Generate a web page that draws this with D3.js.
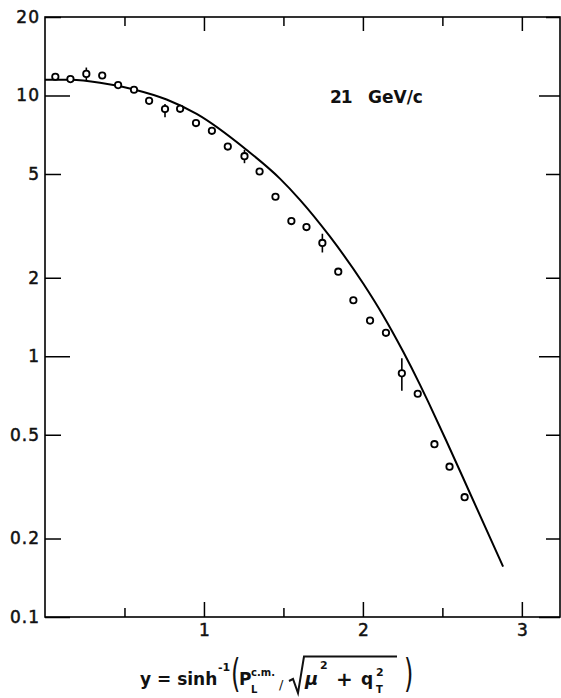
<!DOCTYPE html>
<html lang="en">
<head>
<meta charset="utf-8">
<title>D3: rapidity distribution, 21 GeV/c</title>
<script src="https://d3js.org/d3.v7.min.js"></script>
<style type="text/css">
	body { margin: 0; background: #fff; }
	svg { display: block; }
</style>
</head>
<body>
<script type="text/javascript">
// data points (open circles)
var ptX = [0.065, 0.16, 0.26, 0.36, 0.46, 0.56, 0.655, 0.755, 0.85, 0.95,
           1.05, 1.15, 1.255, 1.35, 1.45, 1.55, 1.645, 1.745, 1.845, 1.94,
           2.045, 2.145, 2.245, 2.345, 2.45, 2.545, 2.64];
var ptY = [11.8, 11.56, 12.1, 11.93, 10.96, 10.52, 9.54, 8.87, 8.89, 7.84,
           7.32, 6.37, 5.85, 5.11, 4.09, 3.30, 3.13, 2.72, 2.11, 1.64,
           1.37, 1.23, 0.86, 0.718, 0.46, 0.377, 0.288];

// error bars on a few points
var errX  = [0.26, 0.755, 1.255, 1.745, 2.245];
var errLo = [11.4, 8.26, 5.50, 2.50, 0.737];
var errHi = [12.8, 9.27, 6.19, 2.95, 0.982];

// theory curve
var curveX = [0, 0.164, 0.346, 0.56, 0.765, 0.954, 1.269, 1.478, 1.604, 1.792,
              2.002, 2.128, 2.253, 2.358, 2.411, 2.526, 2.673, 2.882];
var curveY = [11.5, 11.48, 11.19, 10.55, 9.65, 8.50, 6.18, 4.80, 3.98, 2.88,
              1.90, 1.43, 1.042, 0.78, 0.668, 0.472, 0.299, 0.156];

// ticks
var yTicks = [0.1, 0.2, 0.5, 1, 2, 5, 10, 20];
var yTickLabels = ["0.1", "0.2", "0.5", "1", "2", "5", "10", "20"];
var yMajor = [0.1, 1, 10];
var xTicks = [0.5, 1, 1.5, 2, 2.5, 3];
var xTickLabels = ["", "1", "", "2", "", "3"];

var margin = {top: 17, right: 1, bottom: 81, left: 45},
	width = 561 - margin.left - margin.right,
	height = 698 - margin.top - margin.bottom;

var xscale = d3.scaleLinear().domain([0, 3.24]).range([0, width]);
var yscale = d3.scaleLog().domain([0.1, 20]).range([height, 0]);

var svg = d3.select("body").append("svg")
	.attr("width", 561)
	.attr("height", 698);

var g = svg.append("g")
	.attr("transform", "translate(" + margin.left + "," + margin.top + ")");

var tickFont = "'DejaVu Sans', sans-serif";

// left axis with labels, ticks pointing in
var leftAx = g.append("g")
	.call(d3.axisLeft(yscale)
		.tickValues(yTicks)
		.tickFormat(function(d, i){ return yTickLabels[i]; })
		.tickSizeInner(-16).tickSizeOuter(0).tickPadding(5));
leftAx.selectAll(".tick line")
	.attr("x2", function(d){ return yMajor.indexOf(d) >= 0 ? 25 : 16; })
	.attr("stroke-width", 1.5);
leftAx.selectAll("text")
	.attr("font-family", tickFont).attr("font-size", 17)
	.attr("letter-spacing", 1).attr("fill", "#111")
	.attr("stroke", "#111").attr("stroke-width", 0.5);

// right axis
var rightAx = g.append("g")
	.attr("transform", "translate(" + width + ",0)")
	.call(d3.axisRight(yscale)
		.tickValues(yTicks)
		.tickFormat("")
		.tickSizeInner(-14).tickSizeOuter(0));
rightAx.selectAll(".tick line")
	.attr("x2", function(d){ return yMajor.indexOf(d) >= 0 ? -21 : -14; })
	.attr("stroke-width", 1.5);

// bottom axis
var bottomAx = g.append("g")
	.attr("transform", "translate(0," + height + ")")
	.call(d3.axisBottom(xscale)
		.tickValues(xTicks)
		.tickFormat(function(d, i){ return xTickLabels[i]; })
		.tickSizeInner(-9).tickSizeOuter(0).tickPadding(7));
bottomAx.selectAll(".tick line")
	.attr("y2", function(d){ return d % 1 === 0 ? -15 : -9; })
	.attr("stroke-width", 1.5);
bottomAx.selectAll("text")
	.attr("font-family", tickFont).attr("font-size", 17).attr("fill", "#111")
	.attr("stroke", "#111").attr("stroke-width", 0.5);

// top axis
var topAx = g.append("g")
	.call(d3.axisTop(xscale)
		.tickValues(xTicks)
		.tickFormat("")
		.tickSizeInner(-9).tickSizeOuter(0));
topAx.selectAll(".tick line")
	.attr("y2", function(d){ return d % 1 === 0 ? 14 : 9; })
	.attr("stroke-width", 1.5);

g.selectAll(".domain").remove();

// frame
g.append("rect")
	.attr("x", 0).attr("y", 0)
	.attr("width", width).attr("height", height)
	.attr("fill", "none")
	.attr("stroke", "#000")
	.attr("stroke-width", 1.6);

// theory curve
var line = d3.line()
	.x(function(d){ return xscale(d[0]); })
	.y(function(d){ return yscale(d[1]); })
	.curve(d3.curveMonotoneX);

g.append("path")
	.datum(curveX.map(function(x, i){ return [x, curveY[i]]; }))
	.attr("d", line)
	.attr("fill", "none")
	.attr("stroke", "#000")
	.attr("stroke-width", 2);

// error bars
g.selectAll("line.err")
	.data(errX)
	.enter()
	.append("line")
	.attr("class", "err")
	.attr("x1", function(d){ return xscale(d); })
	.attr("x2", function(d){ return xscale(d); })
	.attr("y1", function(d, i){ return yscale(errHi[i]); })
	.attr("y2", function(d, i){ return yscale(errLo[i]); })
	.attr("stroke", "#000")
	.attr("stroke-width", 1.6);

// points
g.selectAll("circle")
	.data(ptX)
	.enter()
	.append("circle")
	.attr("cx", function(d){ return xscale(d); })
	.attr("cy", function(d, i){ return yscale(ptY[i]); })
	.attr("r", 3.2)
	.attr("fill", "#fff")
	.attr("stroke", "#000")
	.attr("stroke-width", 1.8);

// beam momentum label
var lab = svg.append("text")
	.attr("y", 103)
	.attr("font-family", tickFont)
	.attr("font-weight", "bold")
	.attr("font-size", 17)
	.attr("fill", "#111");
lab.append("tspan").attr("x", 330).attr("letter-spacing", -1).text("21");
lab.append("tspan").attr("x", 368).text("GeV/c");

// x-axis title: y = sinh^-1 ( P_L^c.m. / sqrt(mu^2 + q_T^2) )
var title = svg.append("g")
	.attr("font-family", tickFont)
	.attr("font-weight", "bold")
	.attr("fill", "#111");

function put(txt, x, y, size, extra){
	var t = title.append("text").attr("x", x).attr("y", y)
		.attr("font-size", size).text(txt);
	if (extra) extra(t);
	return t;
}
put("y = sinh", 140, 685, 17);
put("-1", 218, 671, 11);
put("(", 0, 0, 24, function(t){
	t.attr("font-weight", "normal")
	 .attr("transform", "translate(231,687) scale(1,1.6)");
});
put("P", 239, 685, 17);
put("c.m.", 251, 676, 10);
put("L", 251, 693, 10);
put("/", 279, 689, 13, function(t){ t.attr("font-weight", "normal"); });
title.append("path")
	.attr("d", "M289,681 L293,679 L298,693 L304,656.5 L397,656.5")
	.attr("fill", "none")
	.attr("stroke", "#111")
	.attr("stroke-width", 2);
put("\u03bc", 305, 685, 18, function(t){ t.attr("font-style", "italic"); });
put("2", 320, 669, 11);
put("+", 336, 686, 20);
put("q", 361, 685, 17);
put("2", 376, 676, 11);
put("T", 376, 693, 10);
put(")", 0, 0, 24, function(t){
	t.attr("font-weight", "normal")
	 .attr("transform", "translate(404,687) scale(1,1.6)");
});
</script>
</body>
</html>
